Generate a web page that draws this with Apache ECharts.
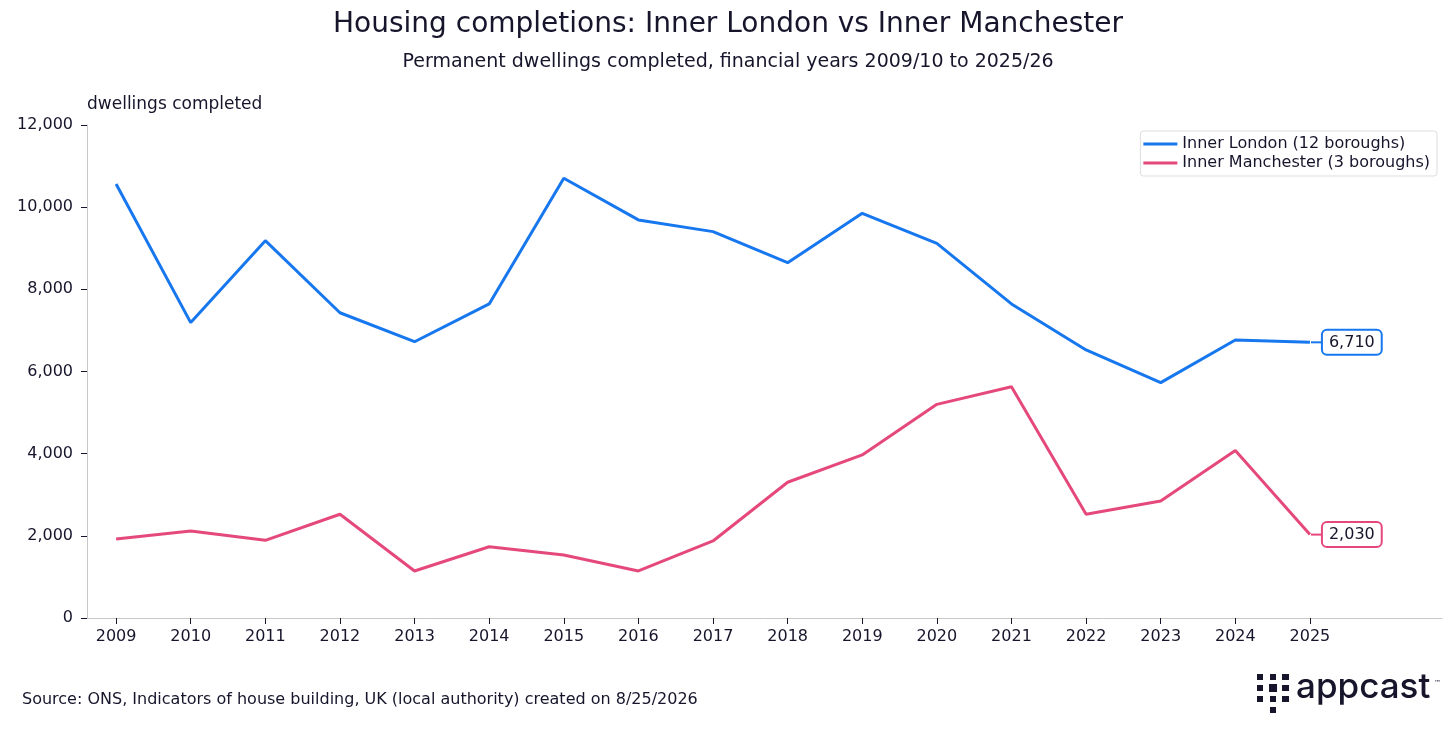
<!DOCTYPE html>
<html>
<head>
<meta charset="utf-8">
<script src="https://cdn.jsdelivr.net/npm/echarts@6/dist/echarts.min.js"></script>
<style>
  html, body { margin: 0; padding: 0; background: #fff; }
  #chart { width: 1456px; height: 729px; }
</style>
</head>
<body>
<div id="chart"></div>
<script>
const years = [2009, 2010, 2011, 2012, 2013, 2014, 2015, 2016, 2017, 2018, 2019, 2020, 2021, 2022, 2023, 2024, 2025];
const innerLondon = [10565, 7190, 9185, 7430, 6725, 7645, 10705, 9690, 9405, 8650, 9850, 9120, 7645, 6525, 5730, 6765, 6710];
const innerManchester = [1925, 2120, 1890, 2525, 1145, 1735, 1535, 1145, 1875, 3305, 3970, 5200, 5630, 2525, 2850, 4075, 2030];

const ink = '#16152b';
const font = '"DejaVu Sans", Inter, sans-serif';
const blue = '#1677ee';
const pink = '#e5497b';

const pairs = vals => years.map((y, i) => [y, vals[i]]);

const endLabel = color => ({
  show: true,
  formatter: p => '{d|}{b|' + p.value[1].toLocaleString('en-US') + '}',
  distance: 1,
  rich: {
    d: { width: 12, height: 2, backgroundColor: color, verticalAlign: 'middle' },
    b: {
      fontFamily: font, fontSize: 16, color: ink,
      borderColor: color, borderWidth: 2, borderRadius: 4,
      padding: [4, 6, 3, 6], backgroundColor: '#fff'
    }
  }
});

const series = (name, vals, color) => ({
  name,
  type: 'line',
  data: pairs(vals),
  symbol: 'none',
  lineStyle: { color, width: 3 },
  itemStyle: { color },
  endLabel: endLabel(color),
  silent: true
});

const chart = echarts.init(document.getElementById('chart'), null, { renderer: 'canvas' });

chart.setOption({
  animation: false,
  textStyle: { fontFamily: font, color: ink },
  title: {
    left: 'center',
    top: 6,
    text: 'Housing completions: Inner London vs Inner Manchester',
    subtext: 'Permanent dwellings completed, financial years 2009/10 to 2025/26',
    itemGap: 14,
    textStyle: { fontFamily: font, fontSize: 28, fontWeight: 'normal', color: ink },
    subtextStyle: { fontFamily: font, fontSize: 19, color: ink }
  },
  legend: {
    orient: 'vertical',
    right: 19,
    top: 131,
    icon: 'rect',
    itemWidth: 34,
    itemHeight: 3,
    itemGap: 3,
    padding: [5, 7, 5, 3],
    borderColor: '#dddddd',
    borderWidth: 1,
    borderRadius: 3,
    textStyle: { fontFamily: font, fontSize: 16, color: ink }
  },
  grid: { left: 87, right: 14, top: 125, bottom: 111 },
  xAxis: {
    type: 'value',
    min: 2008.61,
    max: 2026.77,
    axisLine: { show: true, lineStyle: { color: '#c8c8c8', width: 1 } },
    axisTick: { show: true, customValues: years, length: 6, lineStyle: { color: ink } },
    axisLabel: { customValues: years, formatter: v => String(v), fontFamily: font, fontSize: 16, color: ink, margin: 11 },
    splitLine: { show: false }
  },
  yAxis: {
    type: 'value',
    min: 0,
    max: 12000,
    interval: 2000,
    name: 'dwellings completed',
    nameLocation: 'end',
    nameGap: 12,
    nameTextStyle: { fontFamily: font, fontSize: 17, color: ink, align: 'left' },
    axisLine: { show: true, lineStyle: { color: '#c8c8c8', width: 1 } },
    axisTick: { show: true, length: 6, lineStyle: { color: ink } },
    axisLabel: { fontFamily: font, fontSize: 16, color: ink, margin: 14 },
    splitLine: { show: false }
  },
  series: [
    series('Inner London (12 boroughs)', innerLondon, blue),
    series('Inner Manchester (3 boroughs)', innerManchester, pink)
  ],
  graphic: [
    {
      type: 'text', left: 22, top: 692,
      style: { text: 'Source: ONS, Indicators of house building, UK (local authority) created on 8/25/2026', font: '16px ' + font, fill: ink }
    },
    {
      type: 'group', left: 1257, top: 674,
      children: [
        { type: 'rect', shape: { x: 0, y: 0, width: 6, height: 6 }, style: { fill: ink } },
        { type: 'rect', shape: { x: 13, y: 0, width: 6, height: 6 }, style: { fill: ink } },
        { type: 'rect', shape: { x: 25, y: 0, width: 7, height: 6 }, style: { fill: ink } },
        { type: 'rect', shape: { x: 0, y: 11, width: 6, height: 6 }, style: { fill: ink } },
        { type: 'rect', shape: { x: 12, y: 10, width: 8, height: 8 }, style: { fill: ink } },
        { type: 'rect', shape: { x: 25, y: 11, width: 7, height: 6 }, style: { fill: ink } },
        { type: 'rect', shape: { x: 0, y: 22, width: 6, height: 6 }, style: { fill: ink } },
        { type: 'rect', shape: { x: 13, y: 22, width: 6, height: 6 }, style: { fill: ink } },
        { type: 'rect', shape: { x: 25, y: 22, width: 7, height: 6 }, style: { fill: ink } },
        { type: 'rect', shape: { x: 13, y: 33, width: 6, height: 6 }, style: { fill: ink } }
      ]
    },
    {
      type: 'text', left: 1296, top: 670,
      style: { text: 'appcast', font: '500 35px Inter, sans-serif', fill: ink }
    },
    {
      type: 'text', left: 1434, top: 680,
      style: { text: '™', font: '7px ' + font, fill: ink }
    }
  ]
});
</script>
</body>
</html>
